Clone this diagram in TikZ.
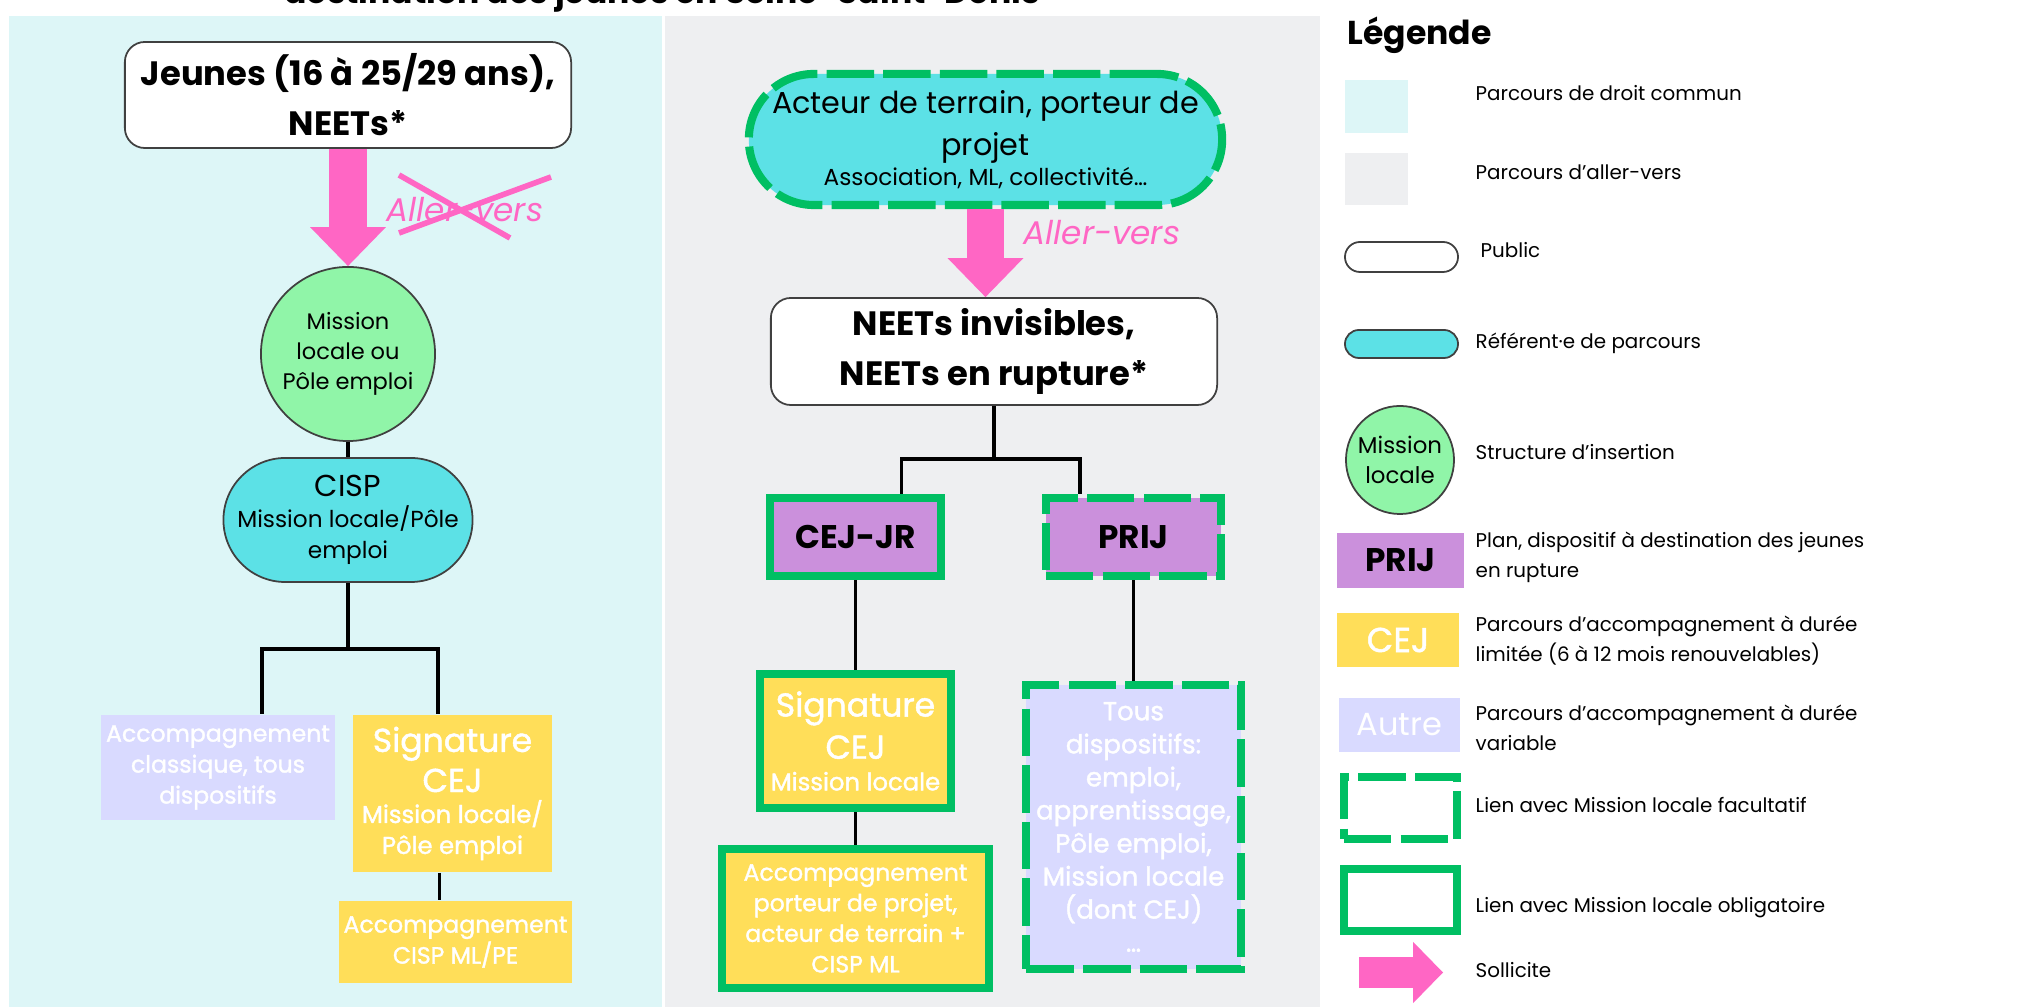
\documentclass[tikz,border=0pt]{standalone}
\usepackage{fontspec}
\setmainfont{Poppins}
\newfontfamily\medfont{Poppins}[FakeBold=1.4]
\usetikzlibrary{arrows.meta, positioning}
\setlength{\parindent}{0pt}

\newcommand{\fsz}[2]{\fontsize{#1}{#2}\selectfont}

\definecolor{bgcyan}{HTML}{DDF6F7}
\definecolor{bggray}{HTML}{EEEFF1}
\definecolor{refcyan}{HTML}{5CE1E6}
\definecolor{mlgreen}{HTML}{90F5A8}
\definecolor{liengreen}{HTML}{00BF63}
\definecolor{prijpurple}{HTML}{CB90DC}
\definecolor{cejyellow}{HTML}{FFDE59}
\definecolor{autrelav}{HTML}{D9DAFF}
\definecolor{solpink}{HTML}{FF66C4}

\tikzset{
  lien/.style={line width=1.1pt, black},
  sollicite/.style={draw=solpink, line width=10.8pt, -{Triangle[length=11.1pt, width=21.6pt, line width=0pt]}},
  legsol/.style={draw=solpink, line width=8.8pt, -{Triangle[length=8.5pt, width=17.4pt, line width=0pt]}},
  public/.style={draw=black!75, line width=0.5pt, fill=white, rounded corners=0.2cm, inner sep=0pt, align=flush center},
  referent/.style={draw=black!75, line width=0.5pt, fill=refcyan, inner sep=0pt, align=flush center},
  structure/.style={circle, draw=black!75, line width=0.5pt, fill=mlgreen, inner sep=0pt, align=flush center},
  plan/.style={fill=prijpurple, inner sep=0pt, align=flush center, font=\bfseries\fsz{9.3}{11}},
  cejbox/.style={fill=cejyellow, text=white, inner sep=0pt, align=flush center},
  autrebox/.style={fill=autrelav, text=white, inner sep=0pt, align=flush center},
  oblig/.style={draw=liengreen, line width=2.3pt},
  facult/.style={oblig, dash pattern=on 13.5pt off 2.6pt},
  legtext/.style={anchor=west, inner sep=0pt, align=left, font=\fsz{5.65}{8.5}},
}

\begin{document}
\begin{tikzpicture}[x=0.01cm, y=-0.01cm]
    \useasboundingbox (0,0) rectangle (2035,1007);
    \fill[white] (0,0) rectangle (2035,1007);

    % Fonds des deux parcours
    \fill[bgcyan] (9,16) rectangle (662,1007);
    \fill[bggray] (665,16) rectangle (1320,1007);

    % Titre, coupe par le bord
    \node[anchor=base, inner sep=0pt, font=\bfseries\fsz{9.4}{11}] (titre) at (662,4) {destination des jeunes en Seine-Saint-Denis};

    % Parcours de droit commun
    \node[public, minimum width=4.46cm, minimum height=1.06cm, font=\bfseries\fsz{9.6}{14.2}] (jeunes) at (348,95) {Jeunes (16 à 25/29 ans),\\NEETs*};
    \node[structure, minimum size=1.74cm, font=\fsz{6.4}{8.5}] (mission) at (348,354) {Mission\\locale ou\\Pôle emploi};
    \draw[sollicite] (jeunes) -- (mission);
    \node[anchor=base west, inner sep=0pt, font=\itshape\fsz{9.3}{11}, text=solpink] (allerG) at (386,222) {Aller-vers};
    \draw[solpink, line width=1.6pt] (399,175) -- (510,238) (399,233) -- (551,177);

    \node[referent, rounded corners=0.62cm, minimum width=2.49cm, minimum height=1.24cm, text width=2.4cm] (cisp) at (348,520)
        {{\fsz{8.6}{10}CISP\par}{\fsz{6.6}{8.8}Mission locale/Pôle\\emploi\par}};
    \draw[lien] (mission) -- (cisp);

    \node[autrebox, minimum width=2.34cm, minimum height=1.05cm, font=\medfont\fsz{6.7}{8.8}] (classique) at (218,767.5) {Accompagnement\\classique, tous\\dispositifs};
    \node[cejbox, minimum width=1.99cm, minimum height=1.57cm, text width=1.95cm] (signG) at (452.5,793.5)
        {{\medfont\fsz{9.4}{11.4}Signature\\CEJ\par}{\medfont\fsz{6.9}{8.8}Mission locale/\\Pôle emploi\par}};
    \node[cejbox, minimum width=2.33cm, minimum height=0.82cm, font=\medfont\fsz{6.7}{8.8}] (cispml) at (455.5,942) {Accompagnement\\CISP ML/PE};

    \path (cisp.south) ++(0,66) coordinate (jonctionG);
    \draw[lien] (cisp.south) -- (jonctionG) -| ([xshift=0.44cm]classique.north);
    \draw[lien] (jonctionG) -| ([xshift=-0.145cm]signG.north);
    \draw[lien] ([xshift=-0.13cm]signG.south) -- ([xshift=-0.13cm]signG.south |- cispml.north);

    % Parcours d'aller-vers
    \node[referent, facult, rounded corners=0.65cm, minimum width=4.73cm, minimum height=1.31cm, text width=4.6cm] (acteur) at (985.5,139.5)
        {{\fsz{8.6}{12}Acteur de terrain, porteur de\\projet\par}{\fsz{6.6}{8.5}Association, ML, collectivité\dots\par}};
    \node[public, minimum width=4.46cm, minimum height=1.07cm, font=\bfseries\fsz{9.6}{14.2}] (neets) at (994,351.5) {NEETs invisibles,\\NEETs en rupture*};
    \draw[sollicite] (acteur.south) -- (acteur.south |- neets.north);
    \node[anchor=base west, inner sep=0pt, font=\itshape\fsz{9.3}{11}, text=solpink] (allerD) at (1023,245) {Aller-vers};

    \node[plan, oblig, minimum width=1.71cm, minimum height=0.78cm] (cejjr) at (855.5,537) {CEJ-JR};
    \node[plan, facult, minimum width=1.75cm, minimum height=0.78cm] (prij) at (1133.5,537) {PRIJ};
    \path (neets.south) ++(0,53) coordinate (jonctionD);
    \draw[lien] (neets.south) -- (jonctionD) -| ([xshift=0.46cm]cejjr.north);
    \draw[lien] (jonctionD) -| ([xshift=-0.535cm]prij.north);

    \node[cejbox, oblig, minimum width=1.91cm, minimum height=1.34cm, text width=1.85cm] (signD) at (855.5,741)
        {{\medfont\fsz{9.4}{12}Signature\\CEJ\par}{\medfont\fsz{6.9}{9}Mission locale\par}};
    \node[cejbox, oblig, minimum width=2.67cm, minimum height=1.39cm, font=\medfont\fsz{6.7}{8.7}] (porteur) at (855.5,918.5) {Accompagnement\\porteur de projet,\\acteur de terrain +\\CISP ML};
    \node[autrebox, facult, minimum width=2.14cm, minimum height=2.84cm, font=\medfont\fsz{7.4}{9.4}] (tous) at (1133.5,827) {Tous\\dispositifs:\\emploi,\\apprentissage,\\Pôle emploi,\\Mission locale\\(dont CEJ)\\\dots};
    \draw[lien] (cejjr) -- (signD);
    \draw[lien] (signD) -- (porteur);
    \draw[lien] (prij) -- (tous);

    % Legende
    \node[anchor=base west, inner sep=0pt, font=\bfseries\fsz{9.4}{11}] (legende) at (1347,45) {Légende};
    \node[fill=bgcyan, minimum width=0.63cm, minimum height=0.53cm, inner sep=0pt] (legDroit) at (1376.5,106.5) {};
    \node[legtext] (txtDroit) at (1475,93) {Parcours de droit commun};
    \node[fill=bggray, minimum width=0.63cm, minimum height=0.52cm, inner sep=0pt] (legAller) at (1376.5,179) {};
    \node[legtext] (txtAller) at (1475,172) {Parcours d'aller-vers};
    \node[public, rounded corners=0.15cm, minimum width=1.13cm, minimum height=0.3cm] (legPublic) at (1401.5,257) {};
    \node[legtext] (txtPublic) at (1480,250) {Public};
    \node[referent, rounded corners=0.14cm, minimum width=1.13cm, minimum height=0.28cm] (legRef) at (1401.5,344) {};
    \node[legtext] (txtRef) at (1475,343) {Référent·e de parcours};
    \node[structure, minimum size=1.08cm, font=\fsz{6.5}{8.5}] (legML) at (1400,460) {Mission\\locale};
    \node[legtext] (txtML) at (1475,452) {Structure d'insertion};
    \node[plan, minimum width=1.27cm, minimum height=0.55cm] (legPlan) at (1400.5,560.5) {PRIJ};
    \node[legtext] (txtPlan) at (1475,557) {Plan, dispositif à destination des jeunes\\en rupture};
    \node[cejbox, minimum width=1.22cm, minimum height=0.54cm, font=\medfont\fsz{9.8}{11}] (legCEJ) at (1398,640) {CEJ};
    \node[legtext] (txtCEJ) at (1475,641) {Parcours d'accompagnement à durée\\limitée (6 à 12 mois renouvelables)};
    \node[autrebox, minimum width=1.21cm, minimum height=0.54cm, font=\fsz{9.1}{11}] (legAutre) at (1399.5,725) {Autre};
    \node[legtext] (txtAutre) at (1475,728) {Parcours d'accompagnement à durée\\variable};
    \node[facult, minimum width=1.13cm, minimum height=0.62cm, inner sep=0pt] (legFacult) at (1400.5,808) {};
    \node[legtext] (txtFacult) at (1475,805) {Lien avec Mission locale facultatif};
    \node[oblig, minimum width=1.13cm, minimum height=0.62cm, inner sep=0pt] (legOblig) at (1400.5,900) {};
    \node[legtext] (txtOblig) at (1475,908) {Lien avec Mission locale obligatoire};
    \coordinate (solDebut) at (1359,972.5);
    \coordinate (solFin) at (1443,972.5);
    \draw[legsol] (solDebut) -- (solFin);
    \node[legtext] (txtSol) at (1475,970) {Sollicite};
\end{tikzpicture}
\end{document}
